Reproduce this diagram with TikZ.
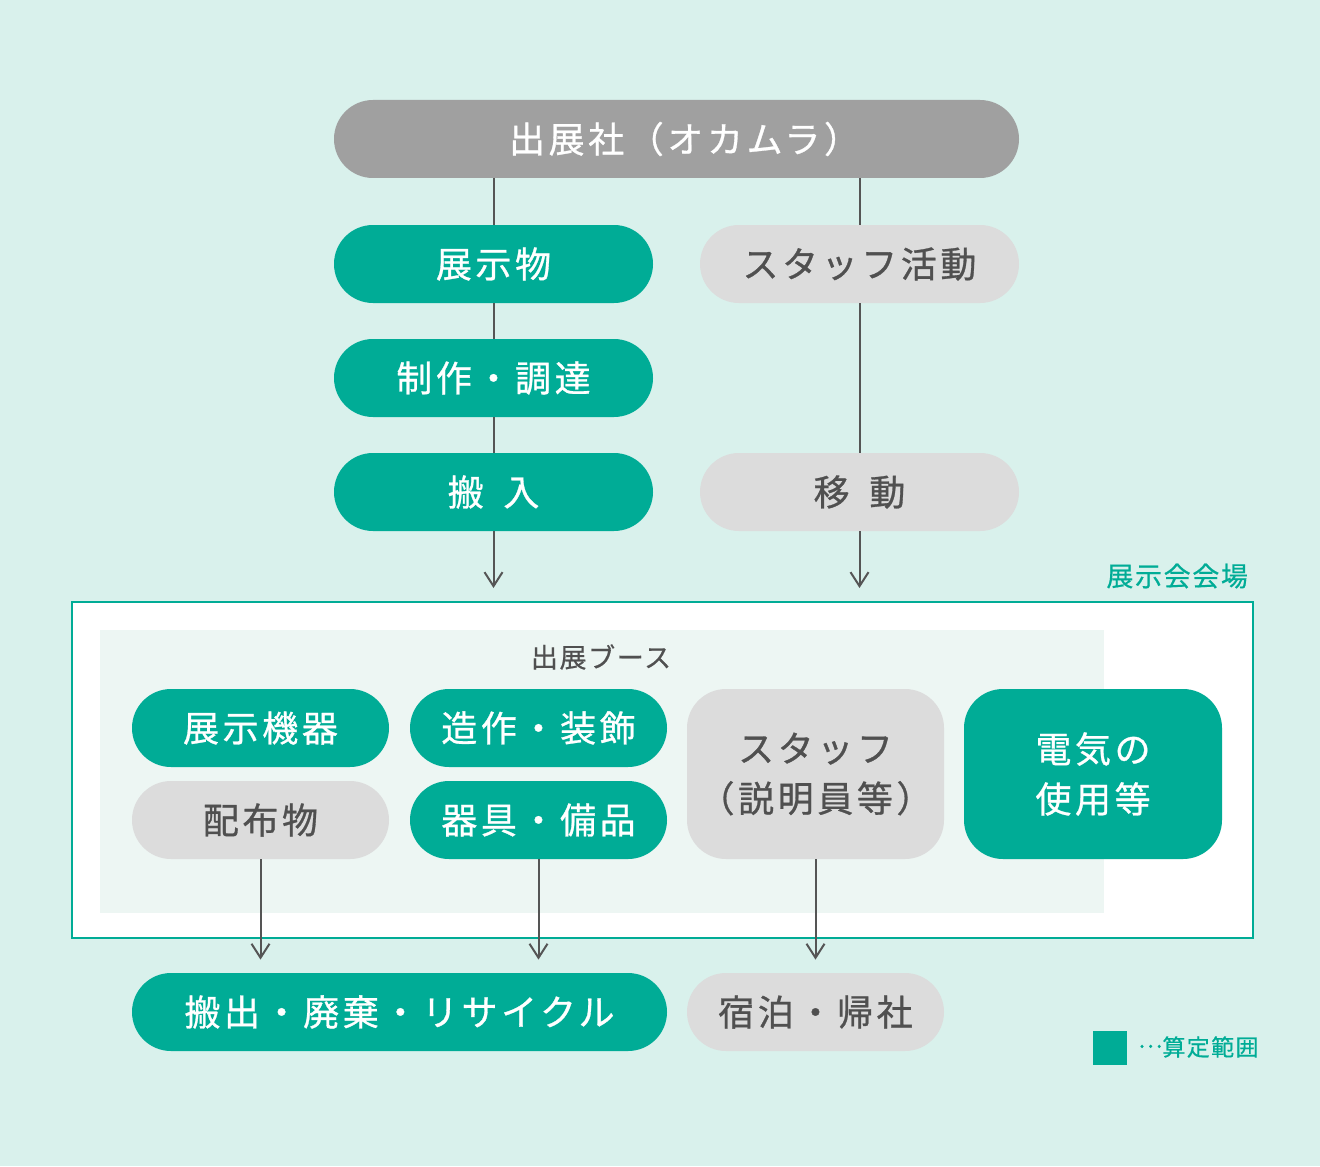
\documentclass[tikz,border=0pt]{standalone}
\usepackage{fontspec}
\usepackage{tikz}
\usetikzlibrary{arrows.meta}
\newfontfamily\jpfont[LetterSpace=10,FakeBold=0.8]{Noto Sans CJK JP}
\newfontfamily\jpsmall[LetterSpace=6,FakeBold=0.5]{Noto Sans CJK JP}
\definecolor{okbg}{HTML}{D9F1EC}
\definecolor{okteal}{HTML}{00AC96}
\definecolor{okgray}{HTML}{DCDCDC}
\definecolor{okhead}{HTML}{A0A0A0}
\definecolor{okbooth}{HTML}{EDF6F3}
\definecolor{oktext}{HTML}{505050}
\definecolor{okline}{HTML}{555555}

\begin{document}
\begin{tikzpicture}[x=0.5pt,y=-0.5pt,
    box/.style={rounded corners=19.5pt,minimum height=39pt,inner sep=0pt,align=center,
        font=\jpfont\fontsize{18}{25}\selectfont},
    green_box/.style={box,fill=okteal,text=white},
    gray_box/.style={box,fill=okgray,text=oktext},
    small_label/.style={font=\jpsmall\fontsize{13.5}{15}\selectfont},
    link/.style={draw=okline,line width=1pt},
    flow/.style={link,-{Straight Barb[length=7pt,width=9pt]}}]
    \fill[okbg] (0,0) rectangle (1320,1166);
    \useasboundingbox (0,0) rectangle (1320,1166);

    % upper flow
    \node[box,fill=okhead,text=white,minimum width=342.5pt] (head) at (676.5,139) {\hspace{8pt}出展社（オカムラ）};
    \node[green_box,minimum width=159.5pt] (tenji) at (493.5,264) {展示物};
    \node[gray_box,minimum width=159.5pt] (staff) at (859.5,264) {スタッフ活動};
    \node[green_box,minimum width=159.5pt] (seisaku) at (493.5,378) {制作・調達};
    \node[green_box,minimum width=159.5pt] (hannyu) at (493.5,492) {搬\hspace{.55em}入};
    \node[gray_box,minimum width=159.5pt] (idou) at (859.5,492) {移\hspace{.55em}動};
    \coordinate (hannyu_end) at (493.5,588);
    \coordinate (idou_end) at (859.5,588);

    \draw[link] (tenji.north |- head.south) -- (tenji.north);
    \draw[link] (staff.north |- head.south) -- (staff.north);
    \draw[link] (tenji) -- (seisaku) -- (hannyu);
    \draw[link] (staff) -- (idou);
    \draw[flow] (hannyu) -- (hannyu_end);
    \draw[flow] (idou) -- (idou_end);

    % hall and booth
    \node[small_label,anchor=east,text=okteal] (hall_label) at (1255,576) {展示会会場};
    \draw[draw=okteal,fill=white,line width=1pt] (72,602) rectangle (1253,938);
    \fill[okbooth] (100,630) rectangle (1104,913);
    \node[small_label,text=oktext] (booth_label) at (601,657) {出展ブース};

    \node[green_box,minimum width=128.5pt] (kiki) at (260.5,728) {展示機器};
    \node[green_box,minimum width=128.5pt] (zousaku) at (538.5,728) {造作・装飾};
    \node[gray_box,minimum width=128.5pt] (haifu) at (260.5,820) {配布物};
    \node[green_box,minimum width=128.5pt] (kigu) at (538.5,820) {器具・備品};
    \node[gray_box,minimum width=128.5pt,minimum height=85pt] (setsumei) at (815.5,774) {スタッフ\\（説明員等）};
    \node[green_box,minimum width=129pt,minimum height=85pt] (denki) at (1093,774) {電気の\\使用等};

    % after the fair
    \node[green_box,minimum width=267.5pt] (hanshutsu) at (399.5,1012) {搬出・廃棄・リサイクル};
    \node[gray_box,minimum width=128.5pt] (shukuhaku) at (815.5,1012) {宿泊・帰社};

    \draw[flow,shorten >=6.5pt] (haifu.south) -- (haifu.south |- hanshutsu.north);
    \draw[flow,shorten >=6.5pt] (kigu.south) -- (kigu.south |- hanshutsu.north);
    \draw[flow,shorten >=6.5pt] (setsumei.south) -- (shukuhaku.north);

    % legend
    \fill[okteal] (1093,1031) rectangle (1127,1065);
    \node[small_label,anchor=west,text=okteal,font=\jpsmall\fontsize{11.5}{13}\selectfont] (legend) at (1131,1047) {\raisebox{.35em}{…}算定範囲};
\end{tikzpicture}
\end{document}
